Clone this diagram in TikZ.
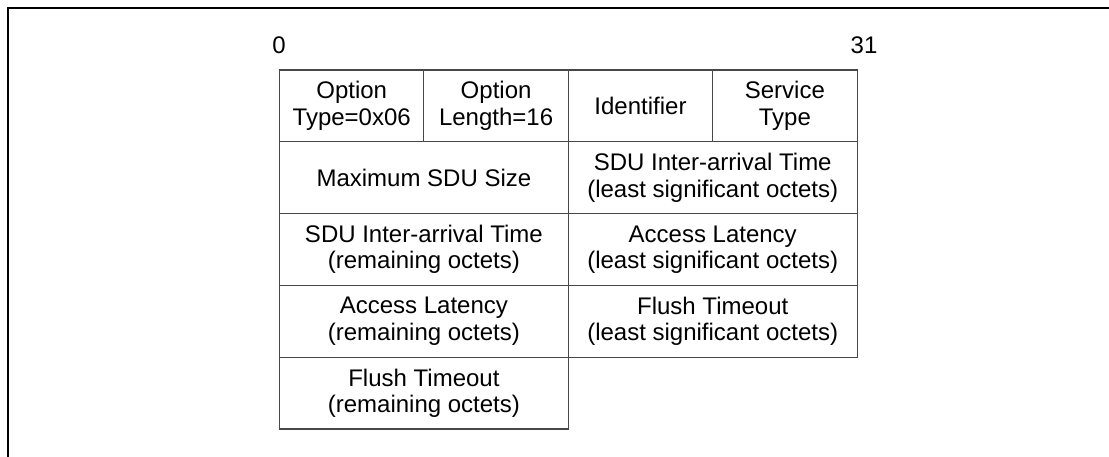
\documentclass[tikz,border=0pt]{standalone}
\usepackage{fontspec}
\setmainfont{Liberation Sans}
\begin{document}
\begin{tikzpicture}[x=1pt,y=-1pt,
  cell/.style={draw=black!72, line width=1.1pt, align=center, inner sep=0pt,
    minimum height=71.8pt, font=\fontsize{24}{26.5}\selectfont},
  quarter/.style={cell, minimum width=144.4pt},
  half/.style={cell, minimum width=288.8pt},
  bitlabel/.style={inner sep=0pt, font=\fontsize{24}{26.5}\selectfont},
  frame/.style={line width=2.5pt, black}]
\useasboundingbox (0,0) rectangle (1109,457);
\coordinate (fa) at (7.8,470);
\coordinate (fb) at (7.8,7.8);
\coordinate (fc) at (1120,7.8);
\draw[frame] (fa) -- (fb) -- (fc);
\node[bitlabel] (b0) at (279,45) {0};
\node[bitlabel] (b31) at (864,45) {31};
% row 1
\node[quarter] (optype) at (351.7,105.9) {Option\\Type=0x06};
\node[quarter] (oplen) at (496.1,105.9) {Option\\Length=16};
\node[quarter] (ident) at (640.5,105.9) {Identifier};
\node[quarter] (stype) at (784.9,105.9) {Service\\Type};
% row 2
\node[half] (maxsdu) at (423.9,177.7) {Maximum SDU Size};
\node[half] (sdulsb) at (712.7,177.7) {SDU Inter-arrival Time\\(least significant octets)};
% row 3
\node[half] (sdurem) at (423.9,249.5) {SDU Inter-arrival Time\\(remaining octets)};
\node[half] (acclsb) at (712.7,249.5) {Access Latency\\(least significant octets)};
% row 4
\node[half] (accrem) at (423.9,321.3) {Access Latency\\(remaining octets)};
\node[half] (flslsb) at (712.7,321.3) {Flush Timeout\\(least significant octets)};
% row 5
\node[half] (flsrem) at (423.9,393.1) {Flush Timeout\\(remaining octets)};
\end{tikzpicture}
\end{document}
